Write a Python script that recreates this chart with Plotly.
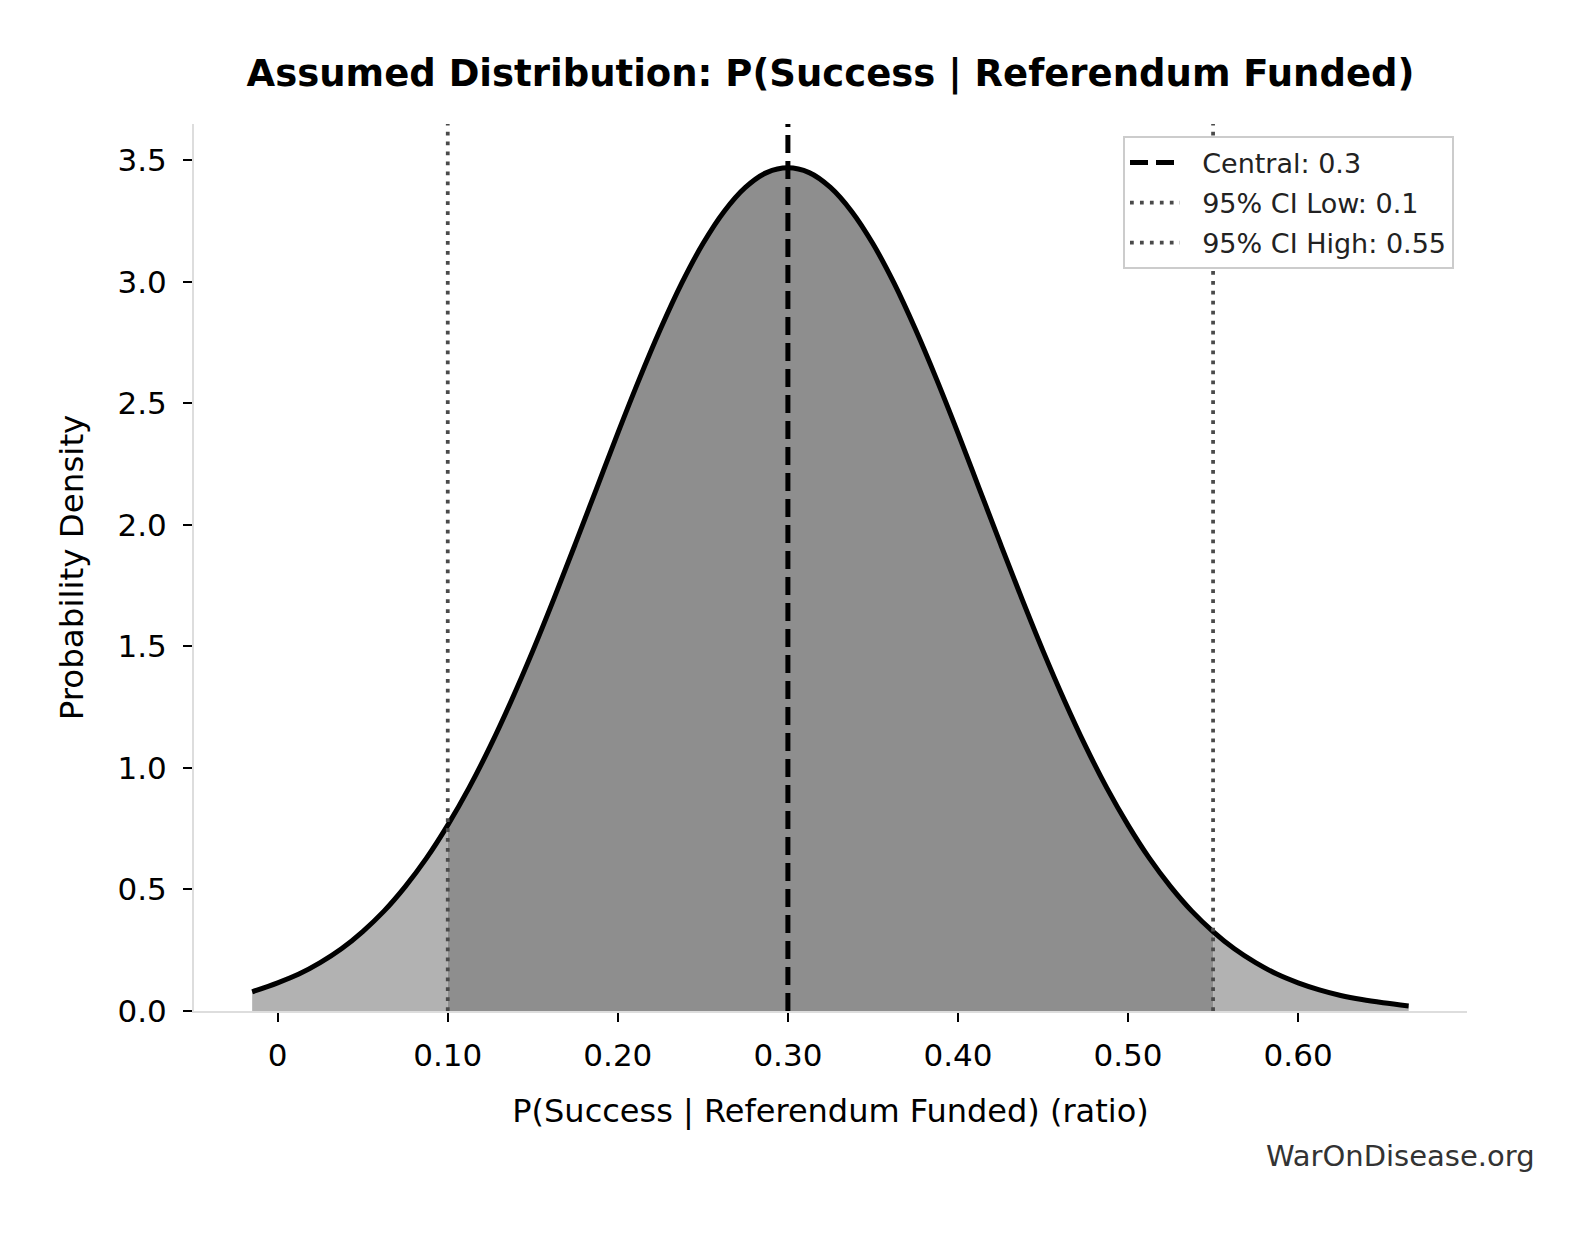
"""
plot.py — Assumed distribution of P(Success | Referendum Funded).

Density curve with the 95% CI band shaded darker, central value dashed,
CI bounds dotted.
"""

import numpy as np
import plotly.graph_objects as go


# values
x_vals = [-0.015, 0.0, 0.0125, 0.025, 0.0375, 0.05, 0.0625, 0.075, 0.0875,
          0.10, 0.1125, 0.125, 0.1375, 0.15, 0.1625, 0.175, 0.1875, 0.20,
          0.2125, 0.225, 0.2375, 0.25, 0.2625, 0.275, 0.2875, 0.30,
          0.3125, 0.325, 0.3375, 0.35, 0.3625, 0.375, 0.3875, 0.40,
          0.4125, 0.425, 0.4375, 0.45, 0.4625, 0.475, 0.4875, 0.50,
          0.5125, 0.525, 0.5375, 0.55, 0.5625, 0.575, 0.5875, 0.60,
          0.6125, 0.625, 0.6375, 0.65, 0.665]
density = [0.079, 0.116, 0.152, 0.199, 0.256, 0.327, 0.411, 0.512, 0.629,
           0.765, 0.918, 1.090, 1.279, 1.482, 1.698, 1.922, 2.150, 2.378,
           2.598, 2.805, 2.994, 3.157, 3.290, 3.389, 3.450, 3.470,
           3.450, 3.389, 3.290, 3.157, 2.994, 2.805, 2.598, 2.378,
           2.150, 1.922, 1.698, 1.482, 1.279, 1.090, 0.918, 0.765,
           0.629, 0.512, 0.411, 0.327, 0.256, 0.199, 0.152, 0.116,
           0.087, 0.064, 0.047, 0.034, 0.021]

central = 0.3
ci_low = 0.1
ci_high = 0.55

x_ticks = [0, 0.1, 0.2, 0.3, 0.4, 0.5, 0.6]
x_tick_labels = ["0", "0.10", "0.20", "0.30", "0.40", "0.50", "0.60"]
y_ticks = [0.0, 0.5, 1.0, 1.5, 2.0, 2.5, 3.0, 3.5]

FONT = "DejaVu Sans"
DARK_FILL = "#8e8e8e"
LIGHT_FILL = "#b2b2b2"
REF_GRAY = "#4a4a4a"
GAP = "&nbsp;&nbsp;"  # space between legend sample and label


def main():
    x = np.array(x_vals)
    y = np.array(density)

    left = x <= ci_low
    mid = (x >= ci_low) & (x <= ci_high)
    right = x >= ci_high

    fig = go.Figure()

    # shaded regions: tails light, CI band dark
    for mask, color in [(left, LIGHT_FILL), (mid, DARK_FILL), (right, LIGHT_FILL)]:
        fig.add_trace(go.Scatter(
            x=x[mask], y=y[mask],
            mode="lines", line=dict(width=0, color=color, shape="spline"),
            fill="tozeroy", fillcolor=color,
            showlegend=False, hoverinfo="skip",
        ))

    # density curve
    fig.add_trace(go.Scatter(
        x=x, y=y,
        mode="lines", line=dict(width=5, color="black", shape="spline"),
        showlegend=False, name="density",
    ))

    # reference lines (one legend group each so the rows can be spaced)
    fig.add_vline(x=central, line=dict(color="black", width=5, dash="18px,8px"),
                  showlegend=True, name=f"{GAP}Central: {central}", legendgroup="c")
    fig.add_vline(x=ci_low, line=dict(color=REF_GRAY, width=3.75, dash="3.75px,6.2px"),
                  showlegend=True, name=f"{GAP}95% CI Low: {ci_low}", legendgroup="lo")
    fig.add_vline(x=ci_high, line=dict(color=REF_GRAY, width=3.75, dash="3.75px,6.2px"),
                  showlegend=True, name=f"{GAP}95% CI High: {ci_high}", legendgroup="hi")

    axis_common = dict(
        showgrid=False, zeroline=False,
        showline=True, linecolor="#dddddd", linewidth=2,
        ticks="outside", ticklen=9, tickwidth=2, tickcolor="black",
        tickfont=dict(family=FONT, size=31, color="black"),
    )

    fig.update_xaxes(
        range=[-0.0492, 0.6993],
        tickvals=x_ticks, ticktext=x_tick_labels,
        ticklabelstandoff=7,
        title=dict(text="P(Success | Referendum Funded) (ratio)",
                   font=dict(family=FONT, size=32, color="black"), standoff=27),
        **axis_common,
    )
    fig.update_yaxes(
        range=[0, 3.65],
        tickvals=y_ticks, tickformat=".1f",
        ticklabelstandoff=10,
        title=dict(text="Probability Density",
                   font=dict(family=FONT, size=32.5, color="black"), standoff=24),
        **axis_common,
    )

    fig.update_layout(
        width=1593, height=1233,
        margin=dict(l=194, r=126, t=124, b=222, autoexpand=False),
        paper_bgcolor="white", plot_bgcolor="white",
        font=dict(family=FONT, color="black"),
        title=dict(
            text="<b>Assumed Distribution: P(Success | Referendum Funded)</b>",
            font=dict(family=FONT, size=37, color="black"),
            x=0.5, xref="paper", xanchor="center",
            y=1 - 73 / 1233, yref="container", yanchor="middle",
        ),
        legend=dict(
            x=0.9898, y=0.986, xanchor="right", yanchor="top",
            bgcolor="white", bordercolor="#cccccc", borderwidth=2,
            font=dict(family=FONT, size=27, color="#222222"),
            itemwidth=50, tracegroupgap=2,
        ),
        showlegend=True,
    )

    fig.add_annotation(
        text="WarOnDisease.org",
        xref="paper", yref="paper", x=1.055, y=-0.164,
        xanchor="right", yanchor="middle", showarrow=False,
        font=dict(family=FONT, size=29, color="#333333"),
    )

    # drop the browser's default body margin so the figure sits at (0, 0)
    fig.write_html("out.html", config={"displayModeBar": False},
                   post_script="document.body.style.margin='0';")


if __name__ == "__main__":
    main()
